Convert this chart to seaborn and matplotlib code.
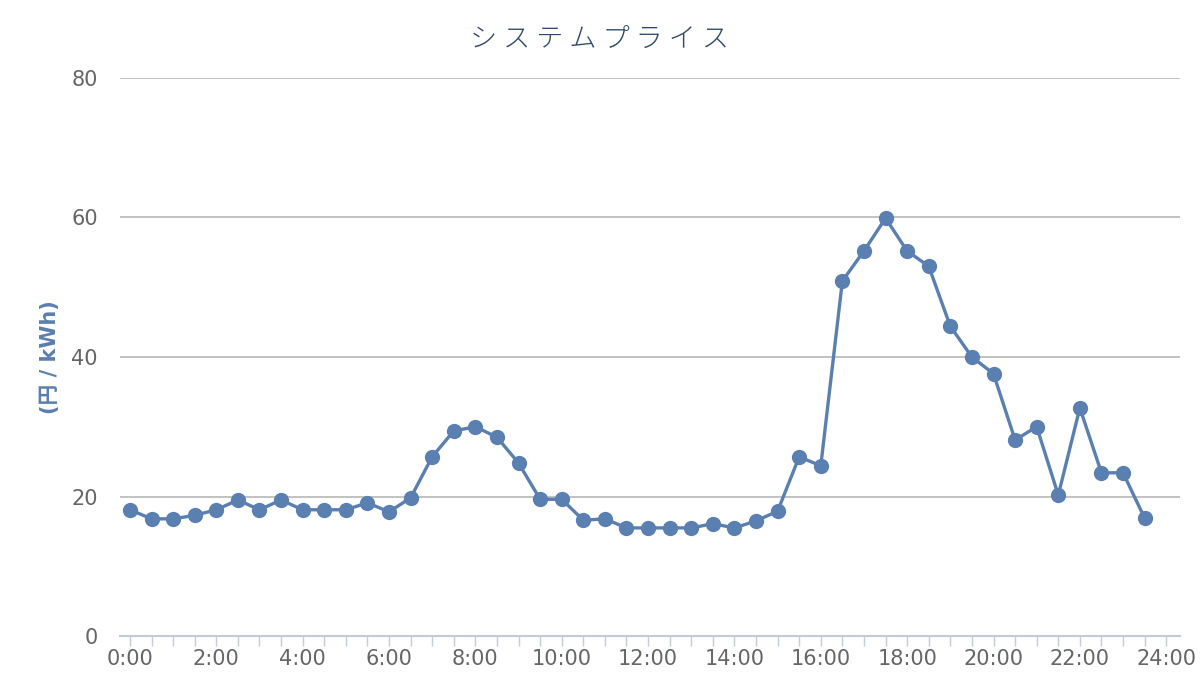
import matplotlib
matplotlib.use("Agg")
import matplotlib.pyplot as plt
import pandas as pd
import seaborn as sns

times = [
    "0:00", "0:30", "1:00", "1:30", "2:00", "2:30", "3:00", "3:30",
    "4:00", "4:30", "5:00", "5:30", "6:00", "6:30", "7:00", "7:30",
    "8:00", "8:30", "9:00", "9:30", "10:00", "10:30", "11:00", "11:30",
    "12:00", "12:30", "13:00", "13:30", "14:00", "14:30", "15:00", "15:30",
    "16:00", "16:30", "17:00", "17:30", "18:00", "18:30", "19:00", "19:30",
    "20:00", "20:30", "21:00", "21:30", "22:00", "22:30", "23:00", "23:30",
]
price = [
    18.1, 16.8, 16.8, 17.3, 18.1, 19.5, 18.1, 19.5,
    18.1, 18.1, 18.1, 19.1, 17.8, 19.8, 25.7, 29.4,
    30.0, 28.5, 24.8, 19.6, 19.6, 16.6, 16.8, 15.5,
    15.5, 15.5, 15.5, 16.1, 15.5, 16.5, 17.9, 25.7,
    24.4, 50.9, 55.2, 59.9, 55.2, 53.0, 44.4, 40.0,
    37.6, 28.1, 30.0, 20.2, 32.7, 23.4, 23.4, 16.9,
]
tick_hours = [0, 2, 4, 6, 8, 10, 12, 14, 16, 18, 20, 22, 24]
tick_labels = ["0:00", "2:00", "4:00", "6:00", "8:00", "10:00", "12:00",
               "14:00", "16:00", "18:00", "20:00", "22:00", "24:00"]
y_ticks = [0, 20, 40, 60, 80]

df = pd.DataFrame({"time": times, "price": price})
df["hour"] = df["time"].map(lambda t: int(t.split(":")[0]) + int(t.split(":")[1]) / 60)

sns.set_theme(style="white")
plt.rcParams["font.family"] = ["DejaVu Sans", "Noto Sans CJK JP"]

line_color = "#5a7fb1"
fig = plt.figure(figsize=(12, 7), dpi=100)
ax = fig.add_axes([0.1, 0.0914, 0.883, 0.7972])

sns.lineplot(data=df, x="hour", y="price", ax=ax, color=line_color,
             linewidth=2.4, marker="o", markersize=11, markeredgewidth=0)

ax.set_ylim(0, 80)
ax.set_xlim(-0.23, 24.31)
ax.set_yticks(y_ticks)
ax.set_yticklabels([str(v) for v in y_ticks], color="#666666", fontsize=15)
ax.set_xticks(tick_hours)
ax.set_xticklabels(tick_labels, color="#666666", fontsize=15)
ax.set_xticks([h + 0.5 * k for h in range(24) for k in (0, 1)] + [24], minor=True)
ax.tick_params(axis="x", which="both", bottom=True, direction="out", length=7,
               width=1, color="#c0cbdc", pad=2)
ax.tick_params(axis="y", length=0, pad=16)

for v in y_ticks[1:]:
    ax.axhline(v, color="#b8b8b8", linewidth=1.2, zorder=0)

for side in ("top", "right", "left"):
    ax.spines[side].set_visible(False)
ax.spines["bottom"].set_color("#c0cbdc")
ax.spines["bottom"].set_linewidth(1.5)

ax.set_xlabel("")
ax.set_ylabel("(円 / kWh)", color=line_color, fontsize=15, fontweight="bold",
              family=["DejaVu Sans", "Noto Sans CJK JP"], labelpad=8)

fig.suptitle("シ ス テ ム プ ラ イ ス", y=0.965, fontsize=19.5, color="#2e4a6b",
             family=["Noto Sans CJK JP"], fontweight="light")

fig.savefig("out.png", dpi=100)
